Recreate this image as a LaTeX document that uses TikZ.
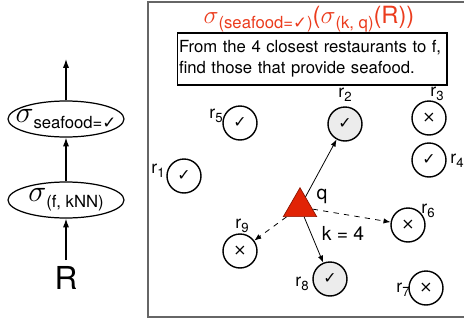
\documentclass[tikz,border=0pt]{standalone}
\usepackage{fontspec}
\setmainfont{TeX Gyre Heros}
\newfontfamily\dejavu{DejaVu Sans}
\usetikzlibrary{shapes.geometric,arrows.meta}

\definecolor{queryred}{RGB}{225,35,5}
\definecolor{querydark}{RGB}{140,20,0}
\definecolor{titlered}{RGB}{235,60,30}

\newcommand{\ok}{{\dejavu\char"2713}}
\newcommand{\nope}{{\dejavu\char"00D7}}
\newcommand{\lowsub}[1]{\raisebox{-0.35ex}{\fontsize{9.5}{10}\selectfont #1}}
\newcommand{\rname}[1]{r\raisebox{-0.4ex}{\fontsize{7.5}{8}\selectfont #1}}

\tikzset{
    op/.style={ellipse, draw, line width=0.7pt, inner sep=0pt, inner xsep=-12pt,
        minimum width=2.32cm, minimum height=0.72cm},
    flow/.style={-{Latex[length=5pt,width=3.5pt]}, line width=0.7pt},
    place/.style={circle, draw, line width=0.8pt, minimum size=0.68cm, inner sep=0pt,
        font=\fontsize{9}{10}\selectfont},
    chosen/.style={place, fill=gray!15},
    rlabel/.style={inner sep=0pt, font=\fontsize{10}{11}\selectfont},
    knn/.style={-{Latex[length=4pt,width=3pt]}, line width=0.45pt},
}

\begin{document}
\begin{tikzpicture}[x=0.02cm, y=-0.02cm]
    \useasboundingbox (0,0) rectangle (464,325);
    % Query plan on the left:
    \node (relR) at (66,278) {\fontsize{18}{20}\selectfont R};
    \node[op] (selknn) at (66,200) {\fontsize{18}{20}\selectfont$\sigma$\lowsub{(f, kNN)}};
    \node[op] (selseafood) at (66,119) {\fontsize{18}{20}\selectfont$\sigma$\lowsub{seafood=\ok}};
    \coordinate (out) at (66,59);
    \draw[flow] (66,260) -- (selknn);
    \draw[flow] (selknn) -- (selseafood);
    \draw[flow] (selseafood) -- (out);

    % Frame, title and question:
    \draw[black!60, line width=1pt] (148,2) rectangle (468,317);
    \node[text=titlered, inner sep=0pt] (title) at (309,19)
        {\fontsize{13.5}{15}\selectfont$\sigma$\lowsub{(seafood=\ok)}($\sigma$\lowsub{(k, q)}(R))};
    \node[draw, line width=0.6pt, text width=5.32cm, inner xsep=0.04cm, inner ysep=0.06cm,
        align=left, minimum height=1.04cm, font=\fontsize{9.5}{12}\selectfont] (question) at (312,59)
        {From the 4 closest restaurants to f,\\find those that provide seafood.};

    % Restaurants:
    \node[place] (r1) at (184,176) {\ok};
    \node[chosen] (r2) at (345,124) {\ok};
    \node[place] (r3) at (429,118) {\nope};
    \node[place] (r4) at (429,160) {\ok};
    \node[place] (r5) at (240,123) {\ok};
    \node[place] (r6) at (408,225) {\nope};
    \node[place] (r7) at (426,288) {\nope};
    \node[chosen] (r8) at (330,279) {\ok};
    \node[place] (r9) at (240,251) {\nope};
    \node[rlabel] (lr1) at (158,171) {\rname{1}};
    \node[rlabel] (lr2) at (345,95) {\rname{2}};
    \node[rlabel] (lr3) at (437,94) {\rname{3}};
    \node[rlabel] (lr4) at (457,161) {\rname{4}};
    \node[rlabel] (lr5) at (216,116) {\rname{5}};
    \node[rlabel] (lr6) at (428,211) {\rname{6}};
    \node[rlabel] (lr7) at (403,290) {\rname{7}};
    \node[rlabel] (lr8) at (302,284) {\rname{8}};
    \node[rlabel] (lr9) at (242,226) {\rname{9}};

    % Query point and its neighbours:
    \node[regular polygon, regular polygon sides=3, minimum size=0.77cm, inner sep=0pt,
        fill=queryred, draw=querydark, line width=0.4pt] (q) at (300,207) {};
    \node[rlabel, font=\fontsize{11}{12}\selectfont] (qlabel) at (322,196) {q};
    \node[rlabel, font=\fontsize{11}{12}\selectfont] (k) at (343,233) {k = 4};
    \draw[knn] (q) -- (r2);
    \draw[knn] (q) -- (r8);
    \draw[knn, dashed] (q) -- (r6);
    \draw[knn, dashed] (q) -- (r9);
\end{tikzpicture}
\end{document}
